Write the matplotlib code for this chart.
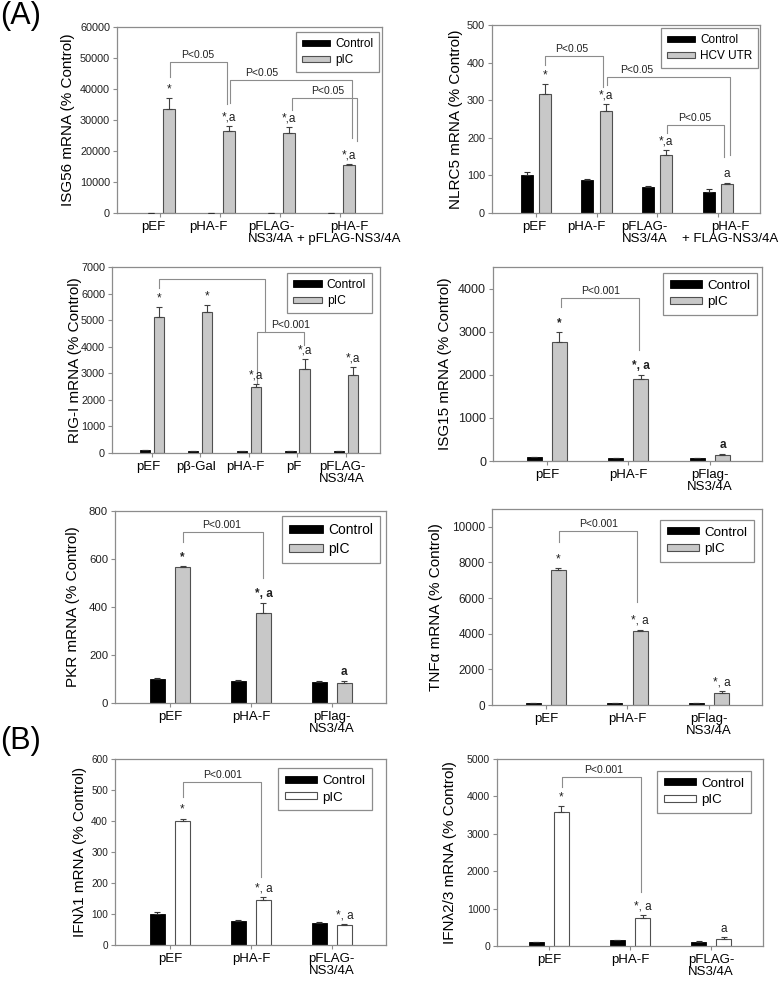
import matplotlib
matplotlib.use('Agg')
import matplotlib.pyplot as plt
import numpy as np

plt.rcParams['font.family'] = ['Liberation Sans', 'DejaVu Sans']

W, H = 781, 981

# ---------------- data ----------------
isg56_cats = ['pEF', 'pHA-F', 'pFLAG-\nNS3/4A', 'pHA-F\n+ pFLAG-NS3/4A']
isg56_ctrl = [100, 100, 100, 100]
isg56_ctrl_err = [0, 0, 0, 0]
isg56_pic = [33500, 26500, 25700, 15400]
isg56_pic_err = [3500, 1600, 1900, 300]
isg56_marks = ['*', '*,a', '*,a', '*,a']

nlrc5_cats = ['pEF', 'pHA-F', 'pFLAG-\nNS3/4A', 'pHA-F\n+ FLAG-NS3/4A']
nlrc5_ctrl = [100, 88, 69, 57]
nlrc5_ctrl_err = [8, 2, 4, 8]
nlrc5_utr = [317, 272, 154, 77]
nlrc5_utr_err = [25, 17, 13, 3]
nlrc5_marks = ['*', '*,a', '*,a', 'a']

rig_cats = ['pEF', 'p\u03b2-Gal', 'pHA-F', 'pF', 'pFLAG-\nNS3/4A']
rig_ctrl = [100, 80, 60, 90, 80]
rig_ctrl_err = [0, 0, 0, 0, 0]
rig_pic = [5100, 5300, 2500, 3150, 2920]
rig_pic_err = [400, 280, 100, 380, 300]
rig_marks = ['*', '*', '*,a', '*,a', '*,a']

flag_cats = ['pEF', 'pHA-F', 'pFlag-\nNS3/4A']
isg15_ctrl = [100, 80, 70]
isg15_ctrl_err = [0, 0, 0]
isg15_pic = [2760, 1900, 150]
isg15_pic_err = [240, 100, 10]
isg15_marks = ['*', '*, a', 'a']

pkr_ctrl = [100, 93, 88]
pkr_ctrl_err = [3, 2, 3]
pkr_pic = [567, 375, 85]
pkr_pic_err = [5, 42, 7]
pkr_marks = ['*', '*, a', 'a']

tnf_ctrl = [100, 120, 120]
tnf_ctrl_err = [0, 0, 0]
tnf_pic = [7580, 4180, 680]
tnf_pic_err = [120, 50, 100]
tnf_marks = ['*', '*, a', '*, a']

ifn_cats = ['pEF', 'pHA-F', 'pFLAG-\nNS3/4A']
ifnl1_ctrl = [100, 77, 70]
ifnl1_ctrl_err = [7, 4, 3]
ifnl1_pic = [400, 146, 64]
ifnl1_pic_err = [8, 9, 3]
ifnl1_marks = ['*', '*, a', '*, a']

ifnl23_ctrl = [100, 170, 120]
ifnl23_ctrl_err = [0, 0, 10]
ifnl23_pic = [3590, 750, 200]
ifnl23_pic_err = [140, 70, 30]
ifnl23_marks = ['*', '*, a', 'a']

GRAY = '#c8c8c8'
LINE = '#8c8c8c'


def box(l, t, r, b):
    return [l / W, 1 - b / H, (r - l) / W, (b - t) / H]


def bracket(ax, x1, x2, yl, yr, ytop, text=None, tx=None):
    ax.plot([x1, x1, x2, x2], [yl, ytop, ytop, yr], color=LINE, lw=0.8, zorder=1)
    if text:
        if tx is None:
            tx = (x1 + x2) / 2
        ax.annotate(text, (tx, ytop), xytext=(0, 1.5), textcoords='offset points',
                    ha='center', va='bottom', fontsize=7.5, color='#202020')


def panel(pos, cats, ctrl, ctrl_err, trt, trt_err, marks, trt_label, ylabel,
          ymax, ystep, ytop, xlim, width, off, leg_xy, ylab_x,
          trt_color=GRAY, bold=False, fs_tick=7.8, fs_cat=9.5, fs_leg=8.5,
          lab_shift=None):
    ax = fig.add_axes(box(*pos))
    n = len(cats)
    x = np.arange(n)
    b1 = ax.bar(x - off, ctrl, width, color='black', edgecolor='black', lw=0.6,
                label='Control', zorder=2)
    b2 = ax.bar(x + off, trt, width, color=trt_color, edgecolor='#505050', lw=0.8,
                label=trt_label, zorder=2)
    ax.errorbar(x - off, ctrl, yerr=[np.zeros(n), ctrl_err], fmt='none', ecolor='#303030',
                elinewidth=0.8, capsize=2.5, capthick=0.8, zorder=3)
    ax.errorbar(x + off, trt, yerr=[np.zeros(n), trt_err], fmt='none', ecolor='#404040',
                elinewidth=0.8, capsize=2.5, capthick=0.8, zorder=3)
    for xi, v, e, m in zip(x, trt, trt_err, marks):
        ax.annotate(m, (xi + off, v + e), xytext=(0, 2), textcoords='offset points',
                    ha='center', va='bottom', fontsize=8.5,
                    fontweight='bold' if bold else 'normal', color='#202020')
    ax.set_xlim(*xlim)
    ax.set_ylim(0, ytop)
    ax.set_yticks(np.arange(0, ymax + 1, ystep))
    # tick marks at group centres, labels where the original put them
    ax.xaxis.remove_overlapping_locs = False
    ax.set_xticks(x)
    ax.set_xticklabels([''] * n)
    if lab_shift is None:
        lab_shift = [0] * n
    ax.set_xticks(x + np.array(lab_shift), minor=True)
    ax.set_xticklabels(cats, minor=True, fontsize=fs_cat, linespacing=1.0)
    ax.tick_params(axis='y', labelsize=fs_tick, direction='out', length=3,
                   width=0.8, color=LINE, labelcolor='#202020', pad=2)
    ax.tick_params(axis='x', which='major', direction='out', length=3, width=0.8,
                   color=LINE)
    ax.tick_params(axis='x', which='minor', length=0, pad=6, labelcolor='black')
    for s in ax.spines.values():
        s.set_color(LINE)
        s.set_linewidth(0.9)
    ax.set_ylabel(ylabel, fontsize=11)
    ax.yaxis.set_label_coords(ylab_x, 0.5)
    leg = ax.legend(handles=[b1, b2], loc='upper right', bbox_to_anchor=leg_xy,
                    borderaxespad=0, fancybox=False, edgecolor=LINE, framealpha=1,
                    fontsize=fs_leg, handlelength=2.4, handleheight=0.45,
                    handletextpad=0.4, borderpad=0.5, labelspacing=0.35)
    leg.get_frame().set_linewidth(0.9)
    return ax


fig = plt.figure(figsize=(W / 100, H / 100), dpi=100)

# ISG56
ax = panel((117, 27, 382, 213), isg56_cats, isg56_ctrl, isg56_ctrl_err, isg56_pic,
           isg56_pic_err, isg56_marks, 'pIC', 'ISG56 mRNA (% Control)',
           60000, 10000, 60000, (-0.72, 3.7), 0.2, 0.15, (0.989, 0.973), -0.158,
           lab_shift=[-0.12, -0.2, -0.15, 0.15])
bracket(ax, 0.17, 1.12, 43800, 35100, 48800, 'P<0.05', 0.62)
bracket(ax, 1.17, 3.2, 35400, 24100, 42900, 'P<0.05', 1.7)
bracket(ax, 2.2, 3.28, 33200, 23300, 37000, 'P<0.05', 2.8)

# NLRC5
ax = panel((492, 25, 760, 213), nlrc5_cats, nlrc5_ctrl, nlrc5_ctrl_err, nlrc5_utr,
           nlrc5_utr_err, nlrc5_marks, 'HCV UTR', 'NLRC5 mRNA (% Control)',
           500, 100, 500, (-0.72, 3.69), 0.2, 0.15, (0.993, 0.984), -0.108,
           lab_shift=[-0.03, -0.16, -0.21, 0.2])
bracket(ax, 0.15, 1.1, 394, 335, 418, 'P<0.05', 0.59)
bracket(ax, 1.17, 3.2, 340, 154, 362, 'P<0.05', 1.66)
bracket(ax, 2.16, 3.1, 212, 150, 234, 'P<0.05', 2.62)

# RIG-I
ax = panel((112, 267, 380, 453), rig_cats, rig_ctrl, rig_ctrl_err, rig_pic,
           rig_pic_err, rig_marks, 'pIC', 'RIG-I mRNA (% Control)',
           7000, 1000, 7000, (-0.82, 4.7), 0.21, 0.145, (0.97, 0.968), -0.112,
           fs_leg=8.7, lab_shift=[-0.08] * 5)
bracket(ax, 0.145, 2.33, 6200, 4550, 6550)
bracket(ax, 2.16, 3.13, 2600, 4060, 4550, 'P<0.001', 2.85)

# ISG15
ax = panel((493, 267, 762, 461), flag_cats, isg15_ctrl, isg15_ctrl_err, isg15_pic,
           isg15_pic_err, isg15_marks, 'pIC', 'ISG15 mRNA (% Control)',
           4000, 1000, 4500, (-0.66, 2.64), 0.185, 0.155, (0.981, 0.969), -0.152,
           bold=True, fs_tick=9, fs_leg=9.6)
bracket(ax, 0.17, 1.13, 3580, 2580, 3790, 'P<0.001', 0.66)

# PKR
ax = panel((115, 511, 386, 703), flag_cats, pkr_ctrl, pkr_ctrl_err, pkr_pic,
           pkr_pic_err, pkr_marks, 'pIC', 'PKR mRNA (% Control)',
           800, 200, 800, (-0.68, 2.67), 0.185, 0.155, (0.978, 0.974), -0.13,
           bold=True, fs_tick=8.2, fs_leg=10)
bracket(ax, 0.16, 1.15, 671, 521, 712, 'P<0.001', 0.64)

# TNF-alpha
ax = panel((492, 509, 762, 705), flag_cats, tnf_ctrl, tnf_ctrl_err, tnf_pic,
           tnf_pic_err, tnf_marks, 'pIC', 'TNF\u03b1 mRNA (% Control)',
           10000, 2000, 11000, (-0.66, 2.65), 0.185, 0.155, (0.97, 0.944), -0.18,
           fs_tick=8.5, fs_leg=9.6)
bracket(ax, 0.16, 1.12, 9160, 5790, 9780, 'P<0.001', 0.65)

# IFN-lambda1
ax = panel((115, 759, 386, 945), ifn_cats, ifnl1_ctrl, ifnl1_ctrl_err, ifnl1_pic,
           ifnl1_pic_err, ifnl1_marks, 'pIC', 'IFN\u03bb1 mRNA (% Control)',
           600, 100, 600, (-0.68, 2.67), 0.185, 0.155, (0.948, 0.95), -0.103,
           trt_color='white', fs_tick=7.2, fs_leg=9.6)
bracket(ax, 0.16, 1.12, 477, 219, 526, 'P<0.001', 0.65)

# IFN-lambda2/3
ax = panel((497, 759, 763, 946), ifn_cats, ifnl23_ctrl, ifnl23_ctrl_err, ifnl23_pic,
           ifnl23_pic_err, ifnl23_marks, 'pIC', 'IFN\u03bb2/3 mRNA (% Control)',
           5000, 1000, 5000, (-0.64, 2.64), 0.185, 0.155, (0.955, 0.936), -0.15,
           trt_color='white', fs_tick=7.6, fs_leg=9.6)
bracket(ax, 0.16, 1.14, 4250, 1440, 4520, 'P<0.001', 0.67)

fig.text(0 / W, 1 - 1 / H, '(A)', fontsize=22, va='top', ha='left')
fig.text(0 / W, 1 - 726 / H, '(B)', fontsize=22, va='top', ha='left')

fig.savefig('out.png', dpi=100)
